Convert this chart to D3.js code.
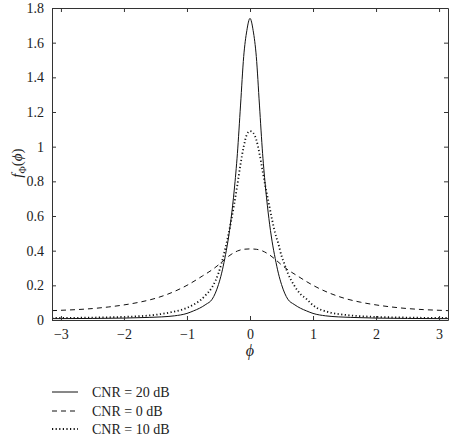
<!DOCTYPE html>
<html><head><meta charset="utf-8">
<script src="https://cdn.jsdelivr.net/npm/d3@7"></script>
<style>body{margin:0;background:#fff}svg text{font-family:"Liberation Serif","Times New Roman",Times,"Nimbus Roman","Tinos",serif !important;fill:#222}</style>
</head><body>
<svg id="c" width="464" height="438"></svg>
<script>
const PI = Math.PI;
// CNR = 20 dB (solid)
const phi20 = [-PI,-3,-2.5,-2,-1.6,-1.4,-1.2,-1.0,-0.9,-0.8,-0.7,-0.6,-0.55,-0.5,-0.45,-0.4,-0.35,-0.3,-0.25,-0.2,-0.15,-0.1,-0.05,0,0.05,0.1,0.15,0.2,0.25,0.3,0.35,0.4,0.45,0.5,0.55,0.6,0.7,0.8,0.9,1.0,1.2,1.4,1.6,2,2.5,3,PI];
const f20   = [0.008,0.008,0.009,0.011,0.015,0.018,0.024,0.038,0.052,0.068,0.09,0.12,0.155,0.205,0.27,0.355,0.455,0.585,0.75,0.96,1.24,1.52,1.67,1.74,1.67,1.52,1.24,0.96,0.75,0.585,0.455,0.355,0.27,0.205,0.155,0.12,0.09,0.068,0.052,0.038,0.024,0.018,0.015,0.011,0.009,0.008,0.008];
// CNR = 0 dB (dashed)
const phi0 = [-PI,-3,-2.75,-2.5,-2.25,-2,-1.75,-1.5,-1.25,-1,-0.75,-0.6,-0.5,-0.4,-0.3,-0.2,-0.1,0,0.1,0.2,0.3,0.4,0.5,0.6,0.75,1,1.25,1.5,1.75,2,2.25,2.5,2.75,3,PI];
const f0   = [0.054,0.056,0.06,0.066,0.075,0.087,0.103,0.125,0.157,0.2,0.255,0.29,0.318,0.35,0.378,0.398,0.408,0.41,0.408,0.398,0.378,0.35,0.318,0.29,0.255,0.2,0.157,0.125,0.103,0.087,0.075,0.066,0.06,0.056,0.054];
// CNR = 10 dB (dotted)
const phi10 = [-PI,-3,-2.5,-2,-1.75,-1.5,-1.25,-1,-0.9,-0.8,-0.7,-0.6,-0.5,-0.45,-0.4,-0.35,-0.3,-0.25,-0.2,-0.15,-0.1,-0.05,0,0.05,0.1,0.15,0.2,0.25,0.3,0.35,0.4,0.45,0.5,0.55,0.6,0.7,0.8,0.9,1,1.25,1.5,1.75,2,2.5,3,PI];
const f10   = [0.012,0.012,0.014,0.018,0.022,0.03,0.045,0.07,0.088,0.11,0.145,0.19,0.27,0.33,0.4,0.48,0.57,0.67,0.78,0.9,1.0,1.07,1.09,1.08,1.04,0.96,0.86,0.76,0.67,0.58,0.5,0.44,0.37,0.32,0.27,0.2,0.15,0.12,0.085,0.045,0.03,0.022,0.018,0.014,0.012,0.012];
const xTicks = [-3,-2,-1,0,1,2,3];
const yTicks = [0,0.2,0.4,0.6,0.8,1,1.2,1.4,1.6,1.8];
const legendLabels = ["CNR = 20 dB","CNR = 0 dB","CNR = 10 dB"];

const FONT = "Liberation Serif, Times New Roman, serif";
const svg = d3.select("#c");
const L=52,R=448,T=8,B=320;
const x = d3.scaleLinear().domain([-PI,PI]).range([L,R]);
const y = d3.scaleLinear().domain([0,1.8]).range([B,T]);
const fmt = d => (d<0?"\u2212":"")+Math.abs(d);

svg.append("clipPath").attr("id","clip").append("rect").attr("x",L).attr("y",T).attr("width",R-L).attr("height",B-T);

const line = d3.line().x(d=>x(d[0])).y(d=>y(d[1])).curve(d3.curveMonotoneX);
const series = [
  {p:phi20,v:f20,dash:null,w:1},
  {p:phi0,v:f0,dash:"5,4",w:1},
  {p:phi10,v:f10,dash:"1.2,2.4",w:1.8}
];
const g = svg.append("g").attr("clip-path","url(#clip)");
series.forEach(s=>{
  g.append("path").datum(d3.zip(s.p,s.v)).attr("d",line)
   .attr("fill","none").attr("stroke","#111").attr("stroke-width",s.w)
   .attr("stroke-dasharray",s.dash);
});

const ax = (axis, tr) => svg.append("g").attr("transform",tr).attr("font-family",FONT).call(axis);
const style = sel => { sel.attr("font-family",FONT); sel.select(".domain").attr("stroke","#333"); sel.selectAll(".tick line").attr("stroke","#333"); sel.selectAll("text").attr("font-size",14).attr("fill","#222"); };
const bx = ax(d3.axisBottom(x).tickValues(xTicks).tickFormat(fmt).tickSizeInner(-4).tickSizeOuter(0).tickPadding(9), `translate(0,${B})`); style(bx);
const tx = ax(d3.axisTop(x).tickValues(xTicks).tickFormat("").tickSizeInner(-4).tickSizeOuter(0), `translate(0,${T})`); style(tx);
const ly = ax(d3.axisLeft(y).tickValues(yTicks).tickFormat(d=>String(d)).tickSizeInner(-4).tickSizeOuter(0).tickPadding(8), `translate(${L},0)`); style(ly);
const ry = ax(d3.axisRight(y).tickValues(yTicks).tickFormat("").tickSizeInner(-4).tickSizeOuter(0), `translate(${R},0)`); style(ry);

svg.append("text").attr("x",250).attr("y",356).attr("text-anchor","middle").attr("font-size",16).attr("font-style","italic").text("\u03d5");
const yl = svg.append("text").attr("transform","translate(22,163) rotate(-90)").attr("text-anchor","middle").attr("font-size",15);
yl.append("tspan").attr("font-style","italic").text("f");
yl.append("tspan").attr("font-size",10).attr("dy",4).text("\u03a6");
yl.append("tspan").attr("dy",-4).text("(");
yl.append("tspan").attr("font-style","italic").text("\u03d5");
yl.append("tspan").text(")");

const ly0 = [392,411,429];
series.forEach((s,i)=>{
  svg.append("line").attr("x1",52).attr("x2",78).attr("y1",ly0[i]).attr("y2",ly0[i])
    .attr("stroke","#111").attr("stroke-width",s.w).attr("stroke-dasharray",s.dash);
  svg.append("text").attr("x",92).attr("y",ly0[i]+4.5).attr("font-size",14).text(legendLabels[i]);
});
</script>
</body></html>
